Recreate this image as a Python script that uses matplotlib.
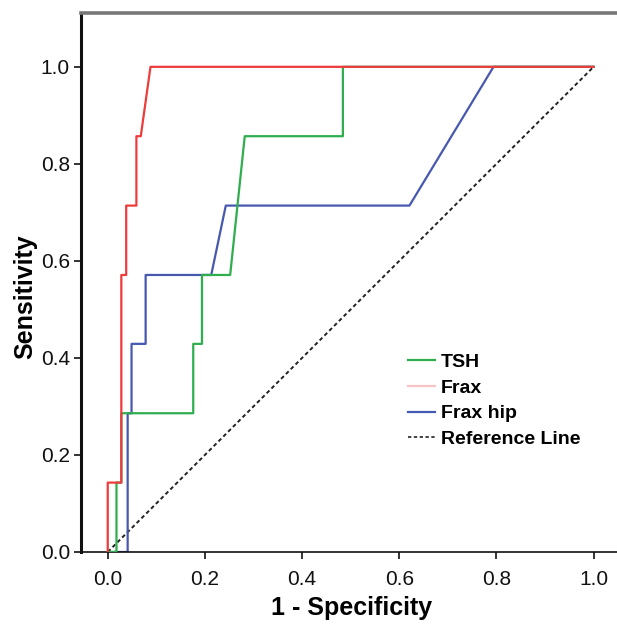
import numpy as np
import matplotlib.pyplot as plt
from matplotlib.lines import Line2D

plt.rcParams['font.family'] = ['Liberation Sans', 'DejaVu Sans']

# ROC curve points (1 - specificity, sensitivity)
tsh_fpr = [0.0, 0.018, 0.018, 0.028, 0.028, 0.176, 0.176, 0.194, 0.194, 0.252, 0.282, 0.484, 0.484, 1.0]
tsh_tpr = [0.0, 0.0, 0.143, 0.143, 0.286, 0.286, 0.429, 0.429, 0.571, 0.571, 0.857, 0.857, 1.0, 1.0]

frax_fpr = [0.0, 0.0, 0.028, 0.028, 0.038, 0.038, 0.059, 0.059, 0.068, 0.088, 1.0]
frax_tpr = [0.0, 0.143, 0.143, 0.571, 0.571, 0.714, 0.714, 0.857, 0.857, 1.0, 1.0]

hip_fpr = [0.0, 0.041, 0.041, 0.049, 0.049, 0.078, 0.078, 0.213, 0.243, 0.621, 0.794, 1.0]
hip_tpr = [0.0, 0.0, 0.286, 0.286, 0.429, 0.429, 0.571, 0.571, 0.714, 0.714, 1.0, 1.0]

ref_x = [0.0, 1.0]
ref_y = [0.0, 1.0]

ticks = [0.0, 0.2, 0.4, 0.6, 0.8, 1.0]
tick_labels = ['0.0', '0.2', '0.4', '0.6', '0.8', '1.0']

green = '#2fae4e'
red = '#ee3b3b'
blue = '#4658b0'

fig = plt.figure(figsize=(6.17, 6.24), dpi=100)
ax = fig.add_axes([0.1313, 0.1154, 0.878, 0.8638])

ax.plot(ref_x, ref_y, color='#222222', linestyle=(0, (2, 1.5)), linewidth=1.4, zorder=1)
ax.plot(hip_fpr, hip_tpr, color=blue, linewidth=1.6, zorder=2)
ax.plot(tsh_fpr, tsh_tpr, color=green, linewidth=1.6, zorder=3)
ax.plot(frax_fpr, frax_tpr, color=red, linewidth=1.6, zorder=4)

ax.set_xlim(-0.055, 1.06)
ax.set_ylim(0, 1.111)
ax.set_xticks(ticks)
ax.set_xticklabels(tick_labels)
ax.set_yticks(ticks)
ax.set_yticklabels(tick_labels)
ax.tick_params(axis='both', labelsize=15, length=5, width=1.2, colors='#111111')
ax.tick_params(axis='x', pad=8)
ax.tick_params(axis='y', pad=3)

ax.spines['right'].set_visible(False)
ax.spines['top'].set_color('#777777')
ax.spines['top'].set_linewidth(2.6)
ax.spines['left'].set_color('#111111')
ax.spines['left'].set_linewidth(2.2)
ax.spines['bottom'].set_color('#111111')
ax.spines['bottom'].set_linewidth(1.2)

ax.set_xlabel('1 - Specificity', fontsize=18, fontweight='bold', labelpad=5)
ax.set_ylabel('Sensitivity', fontsize=18, fontweight='bold')
ax.yaxis.set_label_coords(-0.08, 0.473)

handles = [
    Line2D([], [], color=green, linewidth=1.6),
    Line2D([], [], color='#f6c4c4', linewidth=1.6),
    Line2D([], [], color=blue, linewidth=1.6),
    Line2D([], [], color='#222222', linestyle=(0, (2, 1.5)), linewidth=1.2),
]
labels = ['TSH', 'Frax', 'Frax hip', 'Reference Line']
fig.legend(handles, labels, loc='upper left', bbox_to_anchor=(0.661, 0.434),
           frameon=False, borderpad=0, borderaxespad=0, handlelength=1.4,
           handletextpad=0.3, labelspacing=0.42, prop={'size': 14, 'weight': 'bold'})

fig.savefig('out.png', dpi=100)
